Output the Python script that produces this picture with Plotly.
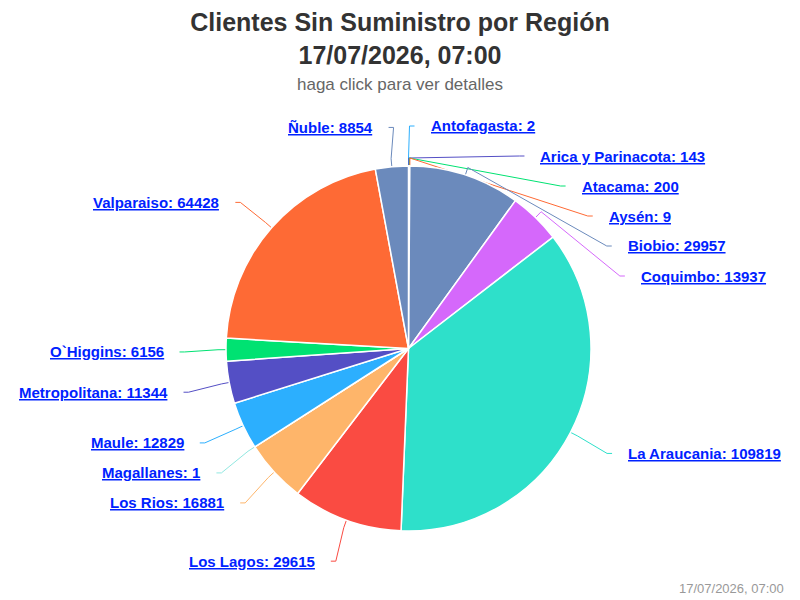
import math
import plotly.graph_objects as go

# ---------------- data ----------------
regions = ["Antofagasta", "Arica y Parinacota", "Atacama", "Aysén", "Biobio",
           "Coquimbo", "La Araucania", "Los Lagos", "Los Rios", "Magallanes",
           "Maule", "Metropolitana", "O`Higgins", "Valparaiso", "Ñuble"]
clients = [2, 143, 200, 9, 29957, 13937, 109819, 29615, 16881, 1,
           12829, 11344, 6156, 64428, 8854]
palette = ["#2caffe", "#544fc5", "#00e272", "#fe6a35", "#6b8abc",
           "#d568fb", "#2ee0ca", "#fa4b42", "#feb56a", "#91e8e1"]
title_lines = ["Clientes Sin Suministro por Región", "17/07/2026, 07:00"]
subtitle_text = "haga click para ver detalles"
credits_text = "17/07/2026, 07:00"

# ---------------- geometry / style ----------------
W, H = 800, 600
CX, CY, R = 408.5, 348.5, 182.5          # pie centre and radius (px)
LBL_R, LBL_DY = 224, 2                   # natural label y circle
XR, XCY = 223, 350                       # label x circle
CONN_PAD, TEXT_PAD, BREAK = 6, 20, 8
SPACING, TOP, BOTTOM = 30, 126, 580
FONT = "Liberation Sans, Arial, Helvetica, sans-serif"
LINK = "#0022ff"

colors = [palette[i % len(palette)] for i in range(len(clients))]

total = sum(clients)
mids, cum = [], 0
for v in clients:
    mids.append((cum + v / 2) / total * 2 * math.pi)
    cum += v


def distribute(targets, lo, hi, s):
    groups = [[i] for i in range(len(targets))]

    def start(g):
        m = sum(targets[i] for i in g) / len(g)
        st = m - (len(g) - 1) * s / 2
        return max(lo, min(st, hi - (len(g) - 1) * s))

    changed = True
    while changed:
        changed = False
        for k in range(len(groups) - 1):
            a, b = groups[k], groups[k + 1]
            if start(a) + len(a) * s > start(b):
                groups[k] = a + b
                del groups[k + 1]
                changed = True
                break
    out = [0.0] * len(targets)
    for g in groups:
        st = start(g)
        for j, i in enumerate(g):
            out[i] = st + j * s
    return out


label_y = [0.0] * len(clients)
for right in (True, False):
    idx = [i for i in range(len(clients)) if (mids[i] < math.pi) == right]
    nat = {i: CY + LBL_DY - LBL_R * math.cos(mids[i]) for i in idx}
    idx.sort(key=lambda i: nat[i])
    ys = distribute([nat[i] for i in idx], TOP, BOTTOM, SPACING)
    for i, y in zip(idx, ys):
        label_y[i] = y


def px(x):
    return x / W


def py(y):
    return 1 - y / H


annotations, shapes = [], []
for i, (name, v) in enumerate(zip(regions, clients)):
    th = mids[i]
    sign = 1 if th < math.pi else -1
    y = label_y[i]
    d = y - XCY
    base = math.sqrt(max(XR ** 2 - d ** 2, 0))
    cx_ = CX + sign * (base + CONN_PAD)
    tx_ = CX + sign * (base + TEXT_PAD)
    annotations.append(dict(
        x=px(tx_), y=py(y), xref="paper", yref="paper",
        xanchor="left" if sign > 0 else "right", yanchor="middle",
        text=f"<b><u>{name}: {v}</u></b>", showarrow=False,
        font=dict(family=FONT, size=15, color=LINK)))
    tsx, tsy = CX + R * math.sin(th), CY - R * math.cos(th)
    bx, by = CX + (R + BREAK) * math.sin(th), CY - (R + BREAK) * math.cos(th)
    path = (f"M {px(cx_)},{py(y)} "
            f"L {px(cx_ - sign * 5)},{py(y)} "
            f"L {px(bx)},{py(by)} "
            f"L {px(tsx)},{py(tsy)}")
    shapes.append(dict(type="path", xref="paper", yref="paper", path=path,
                       line=dict(color=colors[i], width=1), layer="below"))

annotations.append(dict(x=0.5, y=py(85), xref="paper", yref="paper",
                        xanchor="center", yanchor="middle", showarrow=False,
                        text=subtitle_text,
                        font=dict(family=FONT, size=17, color="#666666")))
annotations.append(dict(x=px(786), y=py(588), xref="paper", yref="paper",
                        xanchor="right", yanchor="middle", showarrow=False,
                        text=credits_text,
                        font=dict(family=FONT, size=13, color="#999999")))

fig = go.Figure(go.Pie(
    labels=regions, values=clients, sort=False, direction="clockwise",
    rotation=0, textinfo="none", hoverinfo="label+value",
    marker=dict(colors=colors, line=dict(color="#ffffff", width=1.5)),
    domain=dict(x=[px(CX - R), px(CX + R)], y=[py(CY + R), py(CY - R)]),
    showlegend=False))

fig.update_layout(
    width=W, height=H, margin=dict(l=0, r=0, t=0, b=0),
    paper_bgcolor="#ffffff", plot_bgcolor="#ffffff",
    title=dict(text="<b>" + "<br>".join(title_lines) + "</b>",
               x=0.5, xanchor="center", y=1 - 31 / H, yanchor="top",
               yref="container",
               font=dict(family=FONT, size=25, color="#333333")),
    annotations=annotations, shapes=shapes, showlegend=False)

fig.write_html("out.html", config={"displayModeBar": False})
